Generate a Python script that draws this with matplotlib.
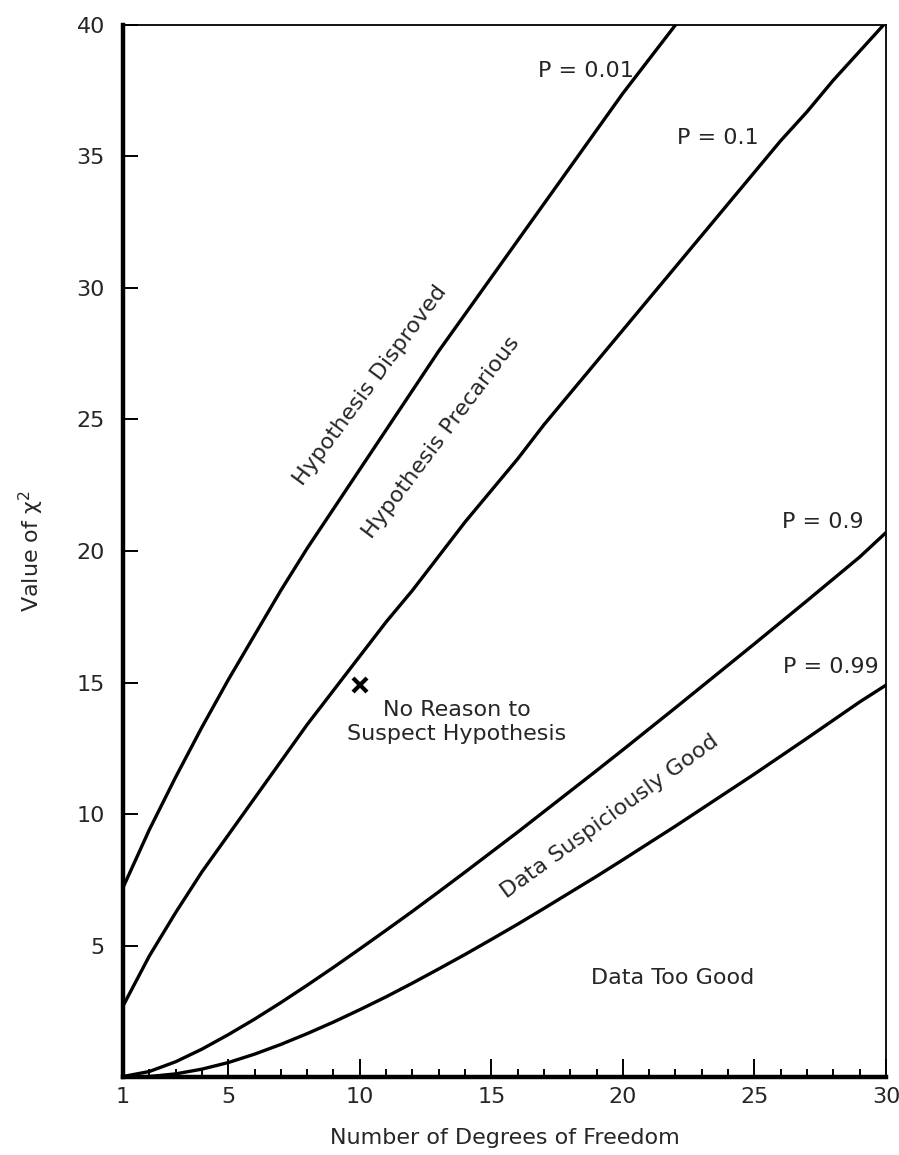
import matplotlib
matplotlib.use("Agg")
import matplotlib.pyplot as plt
from matplotlib.ticker import MultipleLocator

plt.rcParams['font.family'] = ['DejaVu Sans']

# Degrees of freedom
df = list(range(1, 31))

# Chi-square values for each curve
p001 = [7.2, 9.4, 11.4, 13.3, 15.1, 16.8, 18.5, 20.1, 21.6, 23.1, 24.6, 26.1,
        27.6, 29.0, 30.4, 31.8, 33.2, 34.6, 36.0, 37.4, 38.7, 40.0, 41.3]
p01 = [2.7, 4.6, 6.25, 7.8, 9.2, 10.6, 12.0, 13.4, 14.7, 16.0, 17.3, 18.5,
       19.8, 21.1, 22.3, 23.5, 24.8, 26.0, 27.2, 28.4, 29.6, 30.8, 32.0, 33.2,
       34.4, 35.6, 36.7, 37.9, 39.0, 40.1]
p09 = [0.02, 0.21, 0.58, 1.06, 1.61, 2.2, 2.83, 3.49, 4.17, 4.87, 5.58, 6.3,
       7.04, 7.79, 8.55, 9.31, 10.09, 10.87, 11.65, 12.44, 13.24, 14.04, 14.85,
       15.66, 16.47, 17.29, 18.11, 18.94, 19.77, 20.7]
p099 = [0.0, 0.02, 0.12, 0.3, 0.55, 0.87, 1.24, 1.65, 2.09, 2.56, 3.05, 3.57,
        4.11, 4.66, 5.23, 5.81, 6.41, 7.02, 7.63, 8.26, 8.9, 9.54, 10.2, 10.86,
        11.52, 12.2, 12.88, 13.57, 14.26, 14.9]

# Example point
pt_x, pt_y = 10, 14.9

xtick_vals = [1, 5, 10, 15, 20, 25, 30]
ytick_vals = [5, 10, 15, 20, 25, 30, 35, 40]

txt = '#262626'
fs = 16
fig = plt.figure(figsize=(8.99, 11.55), dpi=100)
ax = fig.add_axes([0.1368, 0.0675, 0.8487, 0.9109])

lw = 2.4
ax.plot(df[:len(p001)], p001, color='black', lw=lw, solid_capstyle='round')
ax.plot(df, p01, color='black', lw=lw, solid_capstyle='round')
ax.plot(df, p09, color='black', lw=lw, solid_capstyle='round')
ax.plot(df, p099, color='black', lw=lw, solid_capstyle='round')
ax.plot([pt_x], [pt_y], marker='x', color='black', ms=10, mew=3)

ax.set_xlim(1, 30)
ax.set_ylim(0, 40)

ax.set_xticks(xtick_vals)
ax.set_xticklabels([str(v) for v in xtick_vals])
ax.xaxis.set_minor_locator(MultipleLocator(1))
ax.set_yticks(ytick_vals)
ax.set_yticklabels([str(v) for v in ytick_vals])

ax.tick_params(axis='x', which='major', direction='in', length=13, width=1.4,
               labelsize=fs, pad=7, colors='black', labelcolor=txt)
ax.tick_params(axis='x', which='minor', direction='in', length=6, width=1.4)
ax.tick_params(axis='y', which='major', direction='in', length=11, width=1.4,
               labelsize=fs, pad=13, colors='black', labelcolor=txt)

for s in ['left', 'bottom']:
    ax.spines[s].set_linewidth(3.2)
for s in ['top', 'right']:
    ax.spines[s].set_linewidth(1.3)

ax.set_xlabel('Number of Degrees of Freedom', fontsize=fs, color=txt, labelpad=15)
ax.set_ylabel('Value of χ$^2$', fontsize=fs, color=txt, labelpad=22)

ax.text(18.6, 38.25, 'P = 0.01', fontsize=fs, color=txt, ha='center', va='center')
ax.text(23.6, 35.7, 'P = 0.1', fontsize=fs, color=txt, ha='center', va='center')
ax.text(27.6, 21.1, 'P = 0.9', fontsize=fs, color=txt, ha='center', va='center')
ax.text(27.9, 15.6, 'P = 0.99', fontsize=fs, color=txt, ha='center', va='center')

ax.text(10.4, 26.3, 'Hypothesis Disproved', fontsize=fs, color=txt, ha='center',
        va='center', rotation=53.5, rotation_mode='anchor')
ax.text(13.1, 24.3, 'Hypothesis Precarious', fontsize=fs, color=txt, ha='center',
        va='center', rotation=53, rotation_mode='anchor')
ax.text(13.7, 13.5, 'No Reason to\nSuspect Hypothesis', fontsize=fs, color=txt,
        ha='center', va='center', linespacing=1.25)
ax.text(19.5, 9.9, 'Data Suspiciously Good', fontsize=fs, color=txt, ha='center',
        va='center', rotation=36, rotation_mode='anchor')
ax.text(21.9, 3.76, 'Data Too Good', fontsize=fs, color=txt, ha='center', va='center')

fig.savefig('out.png', dpi=100)
